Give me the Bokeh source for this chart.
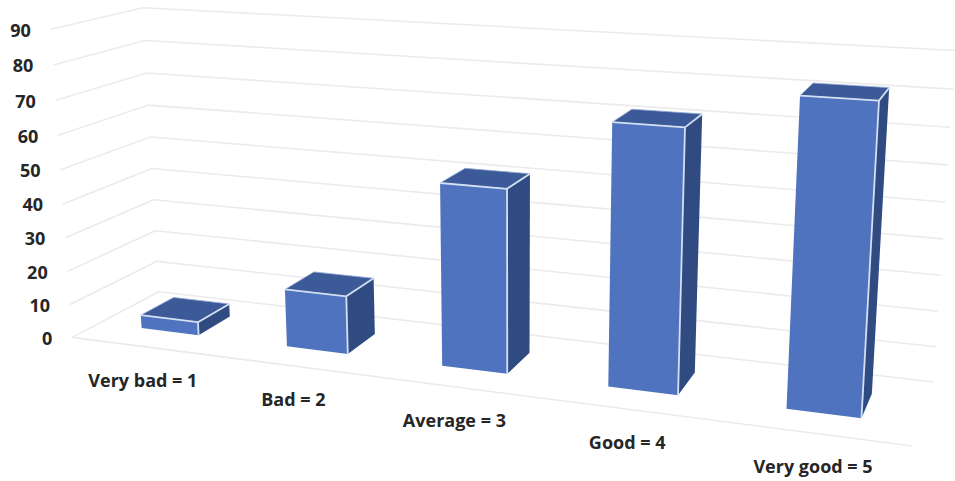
import numpy as np
from bokeh.core.properties import value
from bokeh.embed import file_html
from bokeh.models import ColumnDataSource
from bokeh.plotting import figure
from bokeh.resources import INLINE

# Chart content
categories = ["Very bad = 1", "Bad = 2", "Average = 3", "Good = 4", "Very good = 5"]
scores = [4, 17, 52, 72, 82]
tick_values = [0, 10, 20, 30, 40, 50, 60, 70, 80, 90]

# Chart space: c = category slot (0..5), d = depth (0 front, 1 back), v = value (0..90).
# The camera is solved from where the corners of the chart box should land on the page.
box_corners = [
    ((0, 0, 0), (72, 337)),
    ((0, 0, 90), (50, 29)),
    ((0, 1, 0), (158, 291)),
    ((0, 1, 90), (143, 7)),
    ((5, 1, 0), (933, 382)),
    ((5, 1, 90), (955, 50)),
    ((5, 0, 0), (912, 445)),
]


def solve_camera(pairs):
    rows, rhs = [], []
    for (c, d, v), (x, y) in pairs:
        w = (c / 5, d, v / 90, 1)
        rows.append([*w, 0, 0, 0, 0, *[-x * k for k in w[:3]]])
        rows.append([0, 0, 0, 0, *w, *[-y * k for k in w[:3]]])
        rhs += [x, y]
    sol = np.linalg.lstsq(np.array(rows, float), np.array(rhs, float), rcond=None)[0]
    return np.append(sol, 1.0).reshape(3, 4)


CAM = solve_camera(box_corners)


def project(c, d, v):
    h = CAM @ np.array([c / 5, d, v / 90, 1.0])
    return h[0] / h[2], h[1] / h[2]


p = figure(width=955, height=481, x_range=(0, 955), y_range=(481, 0),
           output_backend="svg", toolbar_location=None, min_border=0)
p.axis.visible = False
p.grid.visible = False
p.outline_line_color = None
p.background_fill_color = "white"
p.border_fill_color = "white"

GRID = "#ebebeb"

# Gridlines on the left wall and the back wall, plus the front edge of the floor
grid_x, grid_y = [], []
for t in tick_values:
    pts = [project(0, 0, t), project(0, 1, t), project(5, 1, t)]
    grid_x.append([q[0] for q in pts])
    grid_y.append([q[1] for q in pts])
front = [project(0, 0, 0), project(5, 0, 0)]
grid_x.append([q[0] for q in front])
grid_y.append([q[1] for q in front])
p.multi_line(grid_x, grid_y, line_color=GRID, line_width=1.6)

# Bars, each a box occupying part of its category slot
HALF_W = 0.20
D0, D1 = 0.30, 0.69


def face(corners):
    pts = [project(*k) for k in corners]
    return [q[0] for q in pts], [q[1] for q in pts]


for i, s in enumerate(scores):
    c0, c1 = i + 0.5 - HALF_W, i + 0.5 + HALF_W
    top = face([(c0, D0, s), (c1, D0, s), (c1, D1, s), (c0, D1, s)])
    side = face([(c1, D0, 0), (c1, D1, 0), (c1, D1, s), (c1, D0, s)])
    fr = face([(c0, D0, 0), (c1, D0, 0), (c1, D0, s), (c0, D0, s)])
    p.patch(*top, fill_color="#3c5998", line_color="#8fa6cf", line_width=0.8)
    p.patch(*side, fill_color="#2f4b82", line_color=None)
    p.patch(*fr, fill_color="#4f73be", line_color=None)
    edges = [
        [(c0, D0, s), (c1, D0, s)],
        [(c1, D0, 0), (c1, D0, s)],
        [(c1, D0, s), (c1, D1, s)],
    ]
    xs = [[project(*a)[0] for a in e] for e in edges]
    ys = [[project(*a)[1] for a in e] for e in edges]
    p.multi_line(xs, ys, line_color="#d3e0f2", line_width=1.8)

# Value labels sit left of the front end of each left-wall gridline
tick_pos = [project(0, 0, t) for t in tick_values]
tick_src = ColumnDataSource(dict(
    x=[q[0] - 20 for q in tick_pos],
    y=[q[1] + 1 for q in tick_pos],
    text=[str(t) for t in tick_values],
))
p.text("x", "y", "text", source=tick_src, text_font=value("Open Sans"),
       text_font_style="bold", text_font_size="18px", text_color="#262626",
       text_align="right", text_baseline="middle")

# Category labels run below the leading edge of the floor
cat_pos = [project(i + 0.5, 0, 0) for i in range(len(categories))]
cat_src = ColumnDataSource(dict(
    x=[q[0] - 1 for q in cat_pos],
    y=[q[1] + 33 for q in cat_pos],
    text=categories,
))
p.text("x", "y", "text", source=cat_src, text_font=value("Open Sans"),
       text_font_style="bold", text_font_size="18px", text_color="#262626",
       text_align="center", text_baseline="middle")

open("out.html", "w").write(file_html(p, INLINE))
